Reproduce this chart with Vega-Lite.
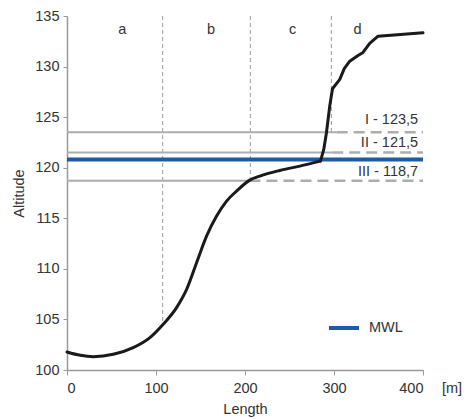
{
  "$schema": "https://vega.github.io/schema/vega-lite/v6.json",
  "width": 356,
  "height": 354,
  "autosize": {"type": "none"},
  "padding": {"left": 67, "top": 16, "right": 43, "bottom": 49},
  "background": "white",
  "config": {
    "view": {"stroke": null},
    "font": "Liberation Sans",
    "axis": {"grid": false, "domainColor": "#9a9a9a", "tickColor": "#9a9a9a", "domainWidth": 1.5, "labelColor": "#333333", "titleColor": "#333333", "labelFontSize": 14.5, "titleFontSize": 14.5, "titleFontWeight": "normal"}
  },
  "datasets": {
    "terrain": [
      {"x": 0, "y": 101.78, "part": "low"}, {"x": 15, "y": 101.45, "part": "low"}, {"x": 29.5, "y": 101.32, "part": "low"}, {"x": 52, "y": 101.55, "part": "low"}, {"x": 74.4, "y": 102.21, "part": "low"},
      {"x": 93.2, "y": 103.2, "part": "low"}, {"x": 108.1, "y": 104.52, "part": "low"}, {"x": 123.1, "y": 106.17, "part": "low"}, {"x": 134.4, "y": 107.97, "part": "low"},
      {"x": 145.6, "y": 110.61, "part": "low"}, {"x": 156.8, "y": 113.24, "part": "low"}, {"x": 168.1, "y": 115.22, "part": "low"}, {"x": 179.3, "y": 116.7, "part": "low"},
      {"x": 190.5, "y": 117.69, "part": "low"}, {"x": 205.4, "y": 118.77, "part": "low"}, {"x": 216.7, "y": 119.17, "part": "low"}, {"x": 239.1, "y": 119.73, "part": "low"},
      {"x": 261.6, "y": 120.16, "part": "low"}, {"x": 284.8, "y": 120.65, "part": "low"},
      {"x": 284.8, "y": 120.65, "part": "high"}, {"x": 288.5, "y": 121.81, "part": "high"}, {"x": 291.5, "y": 123.46, "part": "high"},
      {"x": 295.2, "y": 126.09, "part": "high"}, {"x": 298.3, "y": 127.81, "part": "high"}, {"x": 306.5, "y": 128.73, "part": "high"}, {"x": 311.5, "y": 129.8, "part": "high"}, {"x": 317.7, "y": 130.53, "part": "high"},
      {"x": 327, "y": 131.1, "part": "high"}, {"x": 332.6, "y": 131.4, "part": "high"}, {"x": 340.1, "y": 132.3, "part": "high"}, {"x": 349.5, "y": 133.0, "part": "high"}, {"x": 400, "y": 133.34, "part": "high"}
    ],
    "hlines": [
      {"x": 0, "x2": 303, "y": 123.5, "kind": "solid"},
      {"x": 303, "x2": 400, "y": 123.5, "kind": "dashed"},
      {"x": 0, "x2": 298, "y": 121.5, "kind": "solid"},
      {"x": 298, "x2": 400, "y": 121.5, "kind": "dashed"},
      {"x": 0, "x2": 205, "y": 118.7, "kind": "solid"},
      {"x": 205, "x2": 400, "y": 118.7, "kind": "dashed"}
    ],
    "vlines": [
      {"x": 107.5, "y": 135, "y2": 104.5},
      {"x": 206, "y": 135, "y2": 118.8},
      {"x": 297, "y": 135, "y2": 123.5}
    ],
    "mwl": [
      {"x": 0, "y": 120.8, "series": "MWL"},
      {"x": 400, "y": 120.8, "series": "MWL"}
    ],
    "zones": [
      {"x": 62, "y": 133.2, "label": "a"},
      {"x": 161.7, "y": 133.2, "label": "b"},
      {"x": 253.4, "y": 133.2, "label": "c"},
      {"x": 326.3, "y": 133.2, "label": "d"}
    ],
    "levels": [
      {"x": 394.5, "y": 124.3, "label": "I - 123,5"},
      {"x": 394.5, "y": 122.0, "label": "II - 121,5"},
      {"x": 394.5, "y": 119.2, "label": "III - 118,7"}
    ],
    "unit": [{"x": 400, "y": 100, "label": "[m]"}]
  },
  "layer": [
    {
      "data": {"name": "vlines"},
      "mark": {"type": "rule", "color": "#9a9a9a", "strokeWidth": 1, "strokeDash": [4, 3]},
      "encoding": {
        "x": {"field": "x", "type": "quantitative", "scale": {"domain": [0, 400], "nice": false, "zero": false},
              "axis": {"values": [0, 100, 200, 300, 400], "title": "Length", "tickSize": 5, "labelPadding": 6, "titlePadding": 8}},
        "y": {"field": "y", "type": "quantitative", "scale": {"domain": [100, 135], "nice": false, "zero": false},
              "axis": {"values": [100, 105, 110, 115, 120, 125, 130, 135], "title": "Altitude", "tickSize": 4, "labelPadding": 4, "titlePadding": 8}},
        "y2": {"field": "y2"}
      }
    },
    {
      "data": {"name": "hlines"},
      "transform": [{"filter": "datum.kind == 'solid'"}],
      "mark": {"type": "rule", "color": "#adadad", "strokeWidth": 2},
      "encoding": {
        "x": {"field": "x", "type": "quantitative"},
        "x2": {"field": "x2"},
        "y": {"field": "y", "type": "quantitative"}
      }
    },
    {
      "data": {"name": "hlines"},
      "transform": [{"filter": "datum.kind == 'dashed'"}],
      "mark": {"type": "rule", "color": "#adadad", "strokeWidth": 2.5, "strokeDash": [11, 6]},
      "encoding": {
        "x": {"field": "x", "type": "quantitative"},
        "x2": {"field": "x2"},
        "y": {"field": "y", "type": "quantitative"}
      }
    },
    {
      "data": {"name": "mwl"},
      "mark": {"type": "line", "strokeWidth": 4},
      "encoding": {
        "x": {"field": "x", "type": "quantitative"},
        "y": {"field": "y", "type": "quantitative"},
        "color": {"field": "series", "type": "nominal", "scale": {"domain": ["MWL"], "range": ["#1d5ba6"]},
                  "legend": {"title": null, "orient": "none", "legendX": 260, "legendY": 295, "symbolType": "stroke", "symbolStrokeWidth": 4, "symbolSize": 900, "labelFontSize": 14.5, "labelColor": "#333333", "labelOffset": 8}}
      }
    },
    {
      "data": {"name": "terrain"},
      "transform": [{"filter": "datum.part == 'low'"}],
      "mark": {"type": "line", "color": "#1a1a1a", "strokeWidth": 3, "interpolate": "monotone", "strokeCap": "round"},
      "encoding": {
        "x": {"field": "x", "type": "quantitative"},
        "y": {"field": "y", "type": "quantitative"}
      }
    },
    {
      "data": {"name": "terrain"},
      "transform": [{"filter": "datum.part == 'high'"}],
      "mark": {"type": "line", "color": "#1a1a1a", "strokeWidth": 3, "interpolate": "linear", "strokeJoin": "round", "strokeCap": "round"},
      "encoding": {
        "x": {"field": "x", "type": "quantitative"},
        "y": {"field": "y", "type": "quantitative"}
      }
    },
    {
      "data": {"name": "zones"},
      "mark": {"type": "text", "fontSize": 14.5, "color": "#333333", "align": "center", "baseline": "alphabetic"},
      "encoding": {
        "x": {"field": "x", "type": "quantitative"},
        "y": {"field": "y", "type": "quantitative"},
        "text": {"field": "label"}
      }
    },
    {
      "data": {"name": "levels"},
      "mark": {"type": "text", "fontSize": 14.5, "color": "#333333", "align": "right", "baseline": "alphabetic"},
      "encoding": {
        "x": {"field": "x", "type": "quantitative"},
        "y": {"field": "y", "type": "quantitative"},
        "text": {"field": "label"}
      }
    },
    {
      "data": {"name": "unit"},
      "mark": {"type": "text", "fontSize": 14.5, "color": "#333333", "align": "left", "baseline": "middle", "dx": 19, "dy": 19},
      "encoding": {
        "x": {"field": "x", "type": "quantitative"},
        "y": {"field": "y", "type": "quantitative"},
        "text": {"field": "label"}
      }
    }
  ]
}
